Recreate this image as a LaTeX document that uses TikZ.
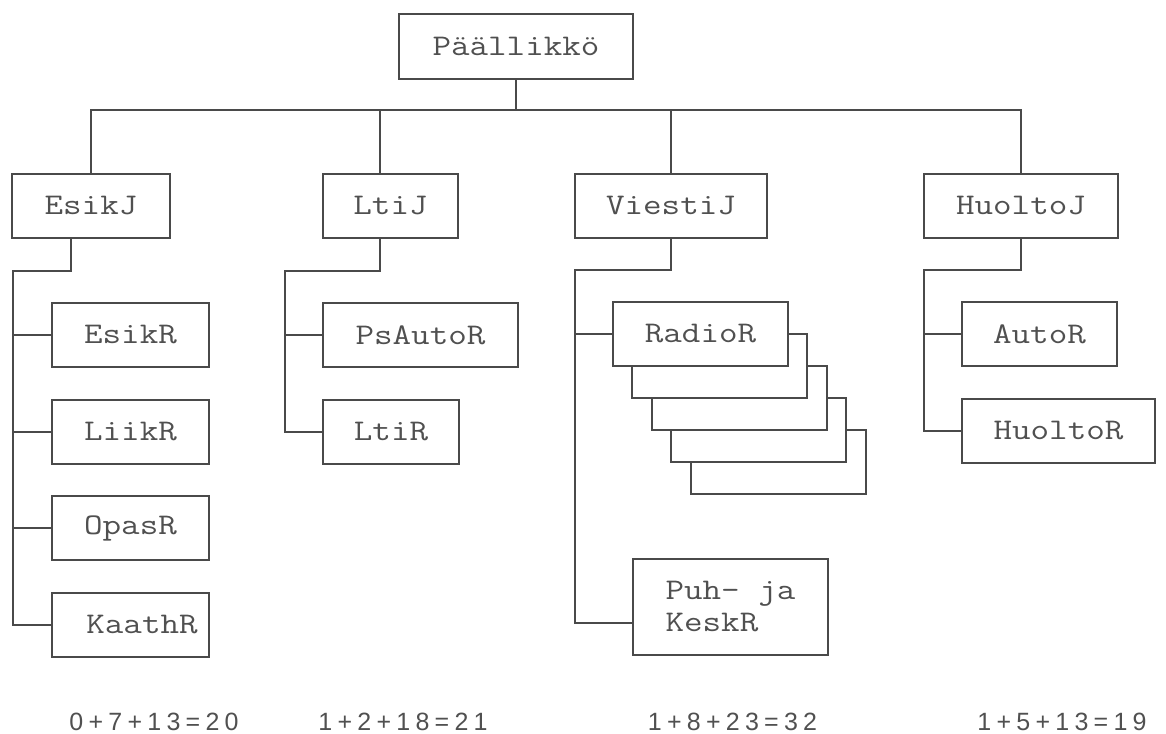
\documentclass[tikz,border=0pt]{standalone}
\usepackage{fontspec}
\setmonofont[FakeStretch=1.2]{Latin Modern Mono}
\newfontfamily\sumfont[LetterSpace=21]{Liberation Sans}
\definecolor{ink}{HTML}{4A4A4A}
\definecolor{txt}{HTML}{505050}
\newcommand{\boxfont}{\ttfamily\fontsize{15pt}{16pt}\selectfont}
\newcommand{\numfont}{\sumfont\fontsize{12.5pt}{12.5pt}\selectfont}
\begin{document}
\begin{tikzpicture}[x=0.5pt,y=-0.5pt,
  box/.style={draw=ink, line width=1pt, fill=white, rectangle, inner sep=0pt,
    font=\boxfont, text=txt, minimum height=32pt},
  wire/.style={draw=ink, line width=1pt},
  sumtxt/.style={font=\numfont, text=txt, inner sep=0pt}]
\useasboundingbox (0,0) rectangle (1166,733);

% top
\node[box, minimum width=117pt, minimum height=32.5pt] (paal) at (516,46.5) {Päällikkö};

% level 2
\node[box, minimum width=79pt] (esikj) at (91,206) {EsikJ};
\node[box, minimum width=67.5pt] (ltij) at (390.5,206) {LtiJ};
\node[box, minimum width=96pt] (viestij) at (671,206) {ViestiJ};
\node[box, minimum width=97pt] (huoltoj) at (1021,206) {HuoltoJ};

% EsikJ group
\node[box, minimum width=78.5pt] (esikr) at (130.5,335) {EsikR};
\node[box, minimum width=78.5pt] (liikr) at (130.5,432) {LiikR};
\node[box, minimum width=78.5pt] (opasr) at (130.5,528) {OpasR};
\node[box, minimum width=78.5pt] (kaathr) at (130.5,625) {\hspace*{11.5pt}KaathR};

% LtiJ group
\node[box, minimum width=97.5pt] (psautor) at (420.5,335) {PsAutoR};
\node[box, minimum width=68pt] (ltir) at (391,432) {LtiR};

% ViestiJ group: stacked radio boxes, back to front
\node[box, minimum width=87.5pt] (radio4) at (778.5,462) {};
\node[box, minimum width=87.5pt] (radio3) at (758.5,430) {};
\node[box, minimum width=87.5pt] (radio2) at (739.5,398) {};
\node[box, minimum width=87.5pt] (radio1) at (719.5,366) {};
\node[box, minimum width=87.5pt] (radior) at (700.5,334) {RadioR};
\node[box, minimum width=97.5pt, minimum height=48pt, align=left] (puh) at (730.5,607) {Puh- ja\\KeskR};

% HuoltoJ group
\node[box, minimum width=77.5pt] (autor) at (1039.5,334) {AutoR};
\node[box, minimum width=96.5pt] (huoltor) at (1058.5,431) {HuoltoR};

% connectors, top level
\coordinate (bus) at (516,110);
\draw[wire] (paal.south) -- (bus);
\draw[wire] (bus) -| (esikj.north);
\draw[wire] (bus) -| ([xshift=-5.25pt]ltij.north);
\draw[wire] (bus) -| (viestij.north);
\draw[wire] (bus) -| (huoltoj.north);

% EsikJ
\coordinate (et) at (13,271);
\draw[wire] ([xshift=-10pt]esikj.south) |- (et) -- (et |- kaathr.west) -- (kaathr.west);
\foreach \n in {esikr,liikr,opasr} \draw[wire] (et |- \n.west) -- (\n.west);

% LtiJ
\coordinate (lt) at (285,271);
\draw[wire] ([xshift=-5.25pt]ltij.south) |- (lt) -- (lt |- ltir.west) -- (ltir.west);
\draw[wire] (lt |- psautor.west) -- (psautor.west);

% ViestiJ
\coordinate (vt) at (575,270);
\coordinate (puhin) at ([yshift=-8pt]puh.west);
\draw[wire] (viestij.south) |- (vt) -- (vt |- puhin) -- (puhin);
\draw[wire] (vt |- radior.west) -- (radior.west);

% HuoltoJ
\coordinate (ht) at (924,270);
\draw[wire] (huoltoj.south) |- (ht) -- (ht |- huoltor.west) -- (huoltor.west);
\draw[wire] (ht |- autor.west) -- (autor.west);

% sums
\node[sumtxt] (s1) at (154,722) {0+7+13=20};
\node[sumtxt] (s2) at (403,722) {1+2+18=21};
\node[sumtxt] (s3) at (732.5,722) {1+8+23=32};
\node[sumtxt] (s4) at (1062,722) {1+5+13=19};
\end{tikzpicture}
\end{document}
